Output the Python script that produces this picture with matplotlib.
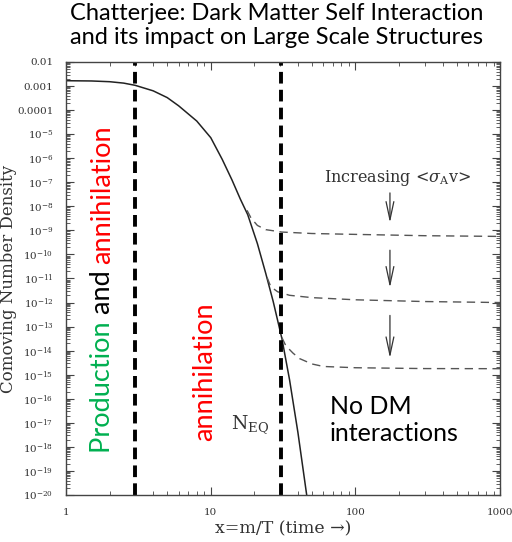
import numpy as np
import matplotlib
matplotlib.use('Agg')
import matplotlib.pyplot as plt
from matplotlib.ticker import FixedLocator, FixedFormatter, LogLocator, NullFormatter

plt.rcParams['mathtext.fontset'] = 'dejavuserif'

# freeze-out curve (equilibrium density)
x_eq = [1, 1.5, 2, 2.5, 3, 4, 5, 6, 8, 10, 12, 14, 16, 18, 21, 24, 27, 31, 35, 40, 46]
y_eq = [1.66e-3, 1.62e-3, 1.51e-3, 1.32e-3, 1.07e-3, 6.3e-4, 3.3e-4, 1.5e-4, 3.5e-5,
        7.1e-6, 8.9e-7, 1.26e-7, 2.0e-8, 4.5e-9, 2.8e-10, 1.6e-11, 1.1e-12, 3.2e-14,
        6.3e-16, 4.0e-18, 1.0e-20]

# relic abundance branches for increasing <sigma v>
x_top = [17.8, 19, 21, 24, 31, 50, 100, 300, 1000]
y_top = [6.8e-9, 3.2e-9, 1.6e-9, 1.07e-9, 8.5e-10, 7.4e-10, 6.8e-10, 6.0e-10, 5.6e-10]
x_mid = [24.5, 26, 29, 35, 50, 100, 300, 1000]
y_mid = [1.1e-11, 4.5e-12, 2.8e-12, 2.0e-12, 1.6e-12, 1.3e-12, 1.1e-12, 1.0e-12]
x_bot = [31, 33, 37, 41, 50, 60, 100, 300, 1000]
y_bot = [3.5e-14, 1.6e-14, 7.9e-15, 4.7e-15, 2.8e-15, 2.2e-15, 1.95e-15, 1.8e-15, 1.78e-15]

# era boundaries
x_bounds = [3.0, 30.5]

# arrows (x, y_start, y_end)
arrow_x = 173
arrow_y0 = [4.7e-8, 1.95e-10, 3.8e-13]
arrow_y1 = [1.6e-9, 3.2e-12, 3.8e-15]

ytick_vals = [10.0 ** -k for k in range(2, 21)]
ytick_labels = ['0.01', '0.001', '0.0001'] + [r'$10^{-%d}$' % k for k in range(5, 21)]
xtick_vals = [1, 10, 100, 1000]
xtick_labels = ['1', '10', '100', '1000']

fig = plt.figure(figsize=(5.12, 5.42), dpi=100)
ax = fig.add_axes([0.129, 0.0867, 0.848, 0.799])

ax.plot(x_eq, y_eq, color='#222222', lw=1.1)
for xs, ys in [(x_top, y_top), (x_mid, y_mid), (x_bot, y_bot)]:
    ax.plot(xs, ys, color='#555555', lw=1.0, dashes=(6, 4))
for xb in x_bounds:
    ax.axvline(xb, color='black', lw=2.8, dashes=(3, 1.6))

for y0, y1 in zip(arrow_y0, arrow_y1):
    ax.annotate('', xy=(arrow_x, y1), xytext=(arrow_x, y0),
                arrowprops=dict(arrowstyle='->,head_length=1.3,head_width=0.28',
                                color='#333333', lw=0.9))

ax.set_xscale('log')
ax.set_yscale('log')
ax.set_xlim(1, 1000)
ax.set_ylim(1e-20, 1e-2)

ax.yaxis.set_major_locator(FixedLocator(ytick_vals))
ax.yaxis.set_major_formatter(FixedFormatter(ytick_labels))
ax.yaxis.set_minor_locator(LogLocator(base=10, subs=np.arange(2, 10), numticks=200))
ax.yaxis.set_minor_formatter(NullFormatter())
ax.xaxis.set_major_locator(FixedLocator(xtick_vals))
ax.xaxis.set_major_formatter(FixedFormatter(xtick_labels))
ax.xaxis.set_minor_locator(LogLocator(base=10, subs=np.arange(2, 10), numticks=50))
ax.xaxis.set_minor_formatter(NullFormatter())

ax.tick_params(which='both', direction='in', top=True, right=True, color='#444444')
ax.tick_params(which='major', length=6, width=0.8)
ax.tick_params(which='minor', length=3, width=0.6)
ax.tick_params(axis='both', labelsize=7.5, labelcolor='#333333')
ax.tick_params(axis='y', pad=9)
ax.tick_params(axis='x', pad=9)
for lab in ax.get_xticklabels() + ax.get_yticklabels():
    lab.set_family('DejaVu Serif')
for sp in ax.spines.values():
    sp.set_color('#444444')
    sp.set_linewidth(1.0)

ax.set_ylabel('Comoving Number Density', family='DejaVu Serif', fontsize=12,
              color='#333333')
ax.yaxis.set_label_coords(-0.112, 0.5)
ax.set_xlabel('x=m/T (time \u2192)', family='DejaVu Serif', fontsize=12.5,
              color='#333333', labelpad=3)

ax.text(196, 1.5e-7, r'Increasing <$\sigma_{\rm A}$v>', family='DejaVu Serif',
        fontsize=11.5, color='#333333', ha='center', va='center')
ax.text(18.7, 8e-18, r'$\mathrm{N}_{\mathrm{EQ}}$', fontsize=13.5, color='#333333',
        ha='center', va='center')

sans = 'Lato'
fig.canvas.draw()
renderer = fig.canvas.get_renderer()
y_cur = 0.097
for word, col in [('Production ', '#00b050'), ('and ', 'black'), ('annihilation', 'red')]:
    t = ax.text(0.085, y_cur, word, transform=ax.transAxes, rotation=90,
                ha='center', va='bottom', fontsize=19.5, color=col, family=sans)
    bb = t.get_window_extent(renderer)
    y_cur += bb.height / (ax.bbox.height)

ax.text(0.32, 0.284, 'annihilation', transform=ax.transAxes, rotation=90,
        ha='center', va='center', fontsize=19.5, color='red', family=sans)
ax.text(0.608, 0.173, 'No DM\ninteractions', transform=ax.transAxes,
        ha='left', va='center', fontsize=18, color='black', family=sans,
        linespacing=1.2)

fig.text(0.137, 0.995, 'Chatterjee: Dark Matter Self Interaction\nand its impact on Large Scale Structures',
         ha='left', va='top', fontsize=17, family=sans, color='black', linespacing=1.2)

fig.savefig('out.png', dpi=100)
